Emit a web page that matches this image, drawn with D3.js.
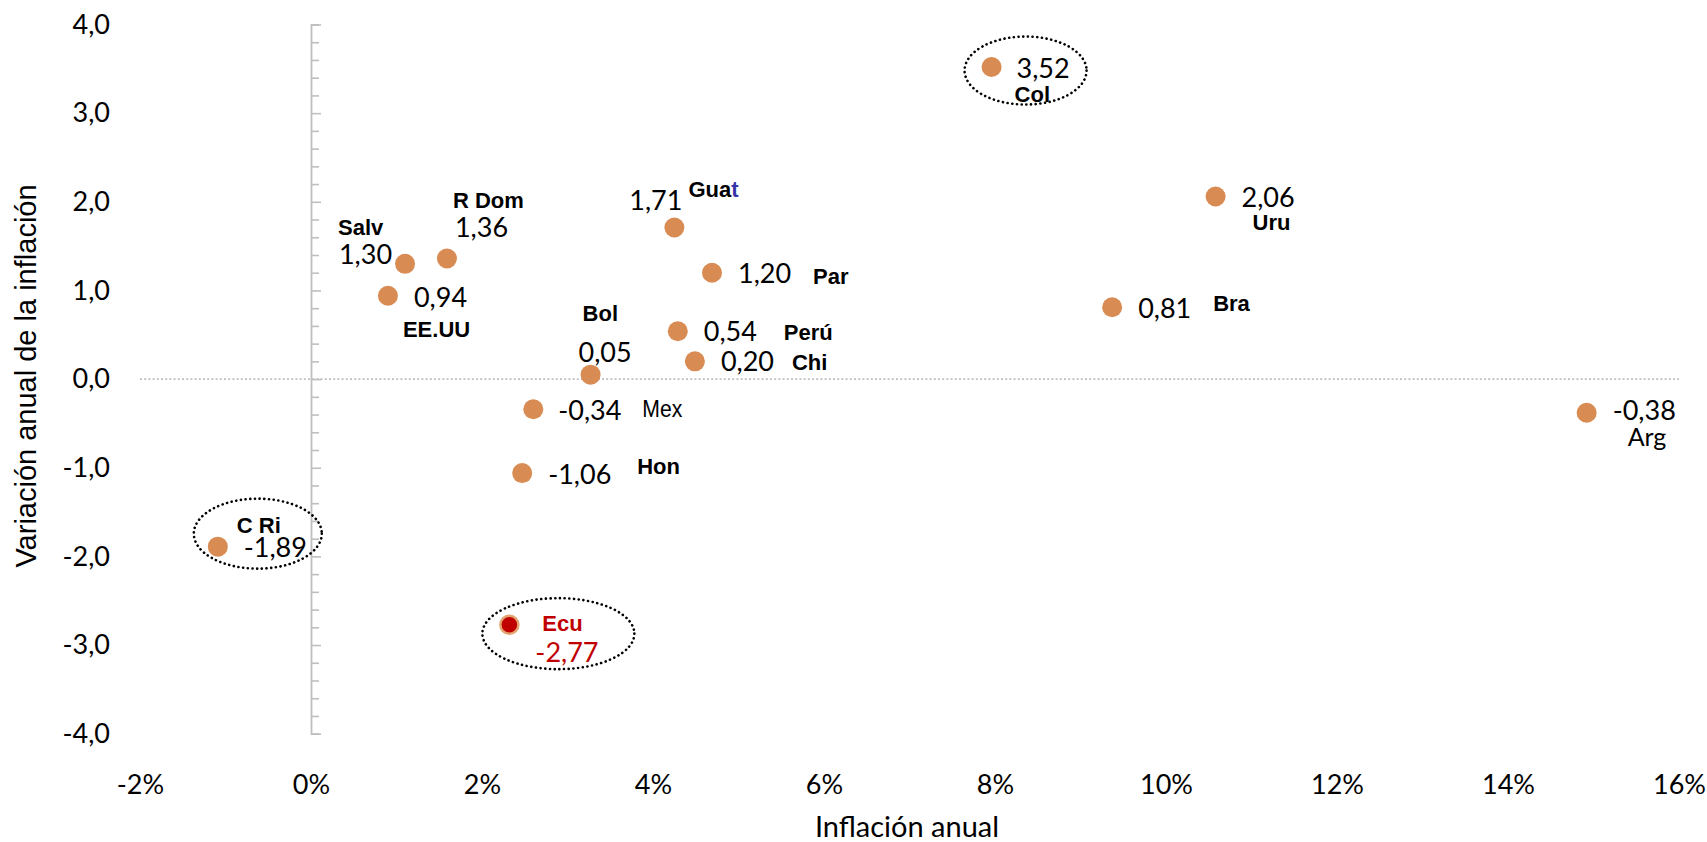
<html>
<head>
<title>Inflación anual</title>
<script src="https://d3js.org/d3.v7.min.js"></script>
<style>
body { margin: 0; background: #fff; }
svg { display: block; }
.tick text { font-family: Lato, Calibri, sans-serif; font-size: 27px; fill: #000; }
.val { font-family: Lato, Calibri, sans-serif; font-size: 27px; fill: #000; }
.nm { font-family: 'Liberation Sans', Arial, sans-serif; font-size: 22px; font-weight: bold; fill: #000; }
.xtitle { font-family: Lato, Calibri, sans-serif; font-size: 29px; fill: #000; }
.ytitle { font-family: 'Liberation Sans', Arial, sans-serif; font-size: 29px; fill: #000; }
</style>
</head>
<body>
<svg width="1707" height="842"></svg>
<script>

// data
var countries = ["Salv", "EE.UU", "R Dom", "Guat", "Par", "Perú", "Chi", "Bol", "Mex", "Hon", "Ecu", "C Ri", "Col", "Uru", "Bra", "Arg"];
var inflation = [1.10, 0.90, 1.59, 4.25, 4.69, 4.29, 4.49, 3.27, 2.60, 2.47, 2.32, -1.09, 7.96, 10.58, 9.37, 14.92];
var variation = [1.30, 0.94, 1.36, 1.71, 1.20, 0.54, 0.20, 0.05, -0.34, -1.06, -2.77, -1.89, 3.52, 2.06, 0.81, -0.38];
var xTicks = [-2, 0, 2, 4, 6, 8, 10, 12, 14, 16];
var yTicks = [-4, -3, -2, -1, 0, 1, 2, 3, 4];
var circled = ["Col", "C Ri", "Ecu"];

// label placement (pixel offsets from each point)
var layout = {
  "Salv":  { n: [-67, -29], v: [-13, 0], va: "end" },
  "EE.UU": { n: [15, 41], v: [26, 11] },
  "R Dom": { n: [6, -51], v: [8, -22] },
  "Guat":  { n: [14, -31], v: [8, -18], va: "end" },
  "Par":   { n: [101, 11], v: [26, 10] },
  "Perú":  { n: [106, 9], v: [26, 10] },
  "Chi":   { n: [97, 9], v: [26, 10] },
  "Bol":   { n: [-8, -54], v: [-12, -13] },
  "Mex":   { n: [109, 8], v: [25, 11], style: "mex" },
  "Hon":   { n: [115, 1], v: [26, 11] },
  "Ecu":   { n: [33, 6], v: [26, 37], style: "ecu" },
  "C Ri":  { n: [19, -14], v: [26, 10] },
  "Col":   { n: [23, 35], v: [25, 11] },
  "Uru":   { n: [37, 34], v: [26, 11] },
  "Bra":   { n: [101, 4], v: [26, 11] },
  "Arg":   { n: [41, 33], v: [26, 7], style: "arg" }
};
var rings = {
  "Col":  { c: [34, 3.5], r: [61, 34] },
  "C Ri": { c: [40, -13], r: [64, 35] },
  "Ecu":  { c: [49, 9], r: [76, 35.5] }
};

var points = countries.map(function(c, i) {
  return { name: c, x: inflation[i], y: variation[i] };
});

var loc = d3.formatLocale({ decimal: ",", thousands: ".", grouping: [3], currency: ["", ""], minus: "-" });
var fmt2 = loc.format(".2f");
var fmt1 = loc.format(".1f");

var svg = d3.select("svg");

var x = d3.scaleLinear().domain([-2, 16]).range([140, 1679]);
var y = d3.scaleLinear().domain([-4, 4]).range([733.7, 24.5]);

// zero line
svg.append("line")
  .attr("x1", x(-2)).attr("x2", x(16))
  .attr("y1", y(0)).attr("y2", y(0))
  .attr("stroke", "#c0c0c0").attr("stroke-width", 1.6)
  .attr("stroke-dasharray", "2,2.2");

// y axis line with ticks on the right side
var minor = d3.range(-4, 4.001, 0.2).map(function(d) { return Math.round(d * 10) / 10; });
var yAx = svg.append("g")
  .attr("transform", "translate(" + x(0) + ",0)")
  .call(d3.axisRight(y).tickValues(minor).tickSize(8).tickFormat(""));
yAx.select(".domain").attr("stroke", "#bfbfbf").attr("stroke-width", 1.8);
yAx.selectAll(".tick line").attr("stroke", "#bfbfbf").attr("stroke-width", 1.6)
  .attr("x2", function(d) { return Number.isInteger(d) ? 10 : 8; });

// y tick labels
var yLab = svg.append("g")
  .attr("transform", "translate(110,0)")
  .call(d3.axisLeft(y).tickValues(yTicks).tickSize(0).tickPadding(0).tickFormat(fmt1));
yLab.select(".domain").remove();

// x tick labels
var xLab = svg.append("g")
  .attr("transform", "translate(0,775)")
  .call(d3.axisBottom(x).tickValues(xTicks).tickSize(0).tickPadding(0).tickFormat(function(d) { return d + "%"; }));
xLab.select(".domain").remove();

// axis titles
svg.append("text").attr("class", "xtitle")
  .attr("x", 907).attr("y", 837).attr("text-anchor", "middle")
  .text("Inflación anual");
svg.append("text").attr("class", "ytitle")
  .attr("transform", "translate(36,376) rotate(-90)")
  .attr("text-anchor", "middle")
  .text("Variación anual de la inflación");

// points
svg.selectAll("circle.pt").data(points).enter().append("circle")
  .attr("class", "pt")
  .attr("cx", function(d) { return x(d.x); })
  .attr("cy", function(d) { return y(d.y); })
  .attr("r", function(d) { return d.name == "Ecu" ? 9 : 10; })
  .attr("fill", function(d) { return d.name == "Ecu" ? "#c00000" : "#d88b52"; })
  .attr("stroke", function(d) { return d.name == "Ecu" ? "#e2a46e" : "none"; })
  .attr("stroke-width", 2.5);

// value and country labels
points.forEach(function(d) {
  var L = layout[d.name];
  var px = x(d.x), py = y(d.y);
  svg.append("text").attr("class", "val")
    .attr("x", px + L.v[0]).attr("y", py + L.v[1])
    .attr("text-anchor", L.va || "start")
    .style("fill", d.name == "Ecu" ? "#c00000" : null)
    .text(fmt2(d.y));

  var t = svg.append("text").attr("class", "nm")
    .attr("x", px + L.n[0]).attr("y", py + L.n[1]);
  if (d.name == "Guat") {
    t.append("tspan").text("Gua");
    t.append("tspan").style("fill", "#3434a8").text("t");
  } else if (L.style == "mex") {
    t.style("font-weight", "normal").style("font-size", "24px")
      .attr("textLength", 40).attr("lengthAdjust", "spacingAndGlyphs").text(d.name);
  } else if (L.style == "arg") {
    t.style("font-family", "Lato, Calibri, sans-serif").style("font-weight", "normal")
      .style("font-size", "25px").text(d.name);
  } else if (L.style == "ecu") {
    t.style("fill", "#c00000").text(d.name);
  } else {
    t.text(d.name);
  }
});

// dotted rings around highlighted countries
points.filter(function(d) { return circled.indexOf(d.name) >= 0; }).forEach(function(d) {
  var R = rings[d.name];
  svg.append("ellipse")
    .attr("cx", x(d.x) + R.c[0]).attr("cy", y(d.y) + R.c[1])
    .attr("rx", R.r[0]).attr("ry", R.r[1])
    .attr("fill", "none").attr("stroke", "#000").attr("stroke-width", 2.6)
    .attr("stroke-linecap", "round").attr("stroke-dasharray", "0.1,4.6");
});

</script>
</body>
</html>
